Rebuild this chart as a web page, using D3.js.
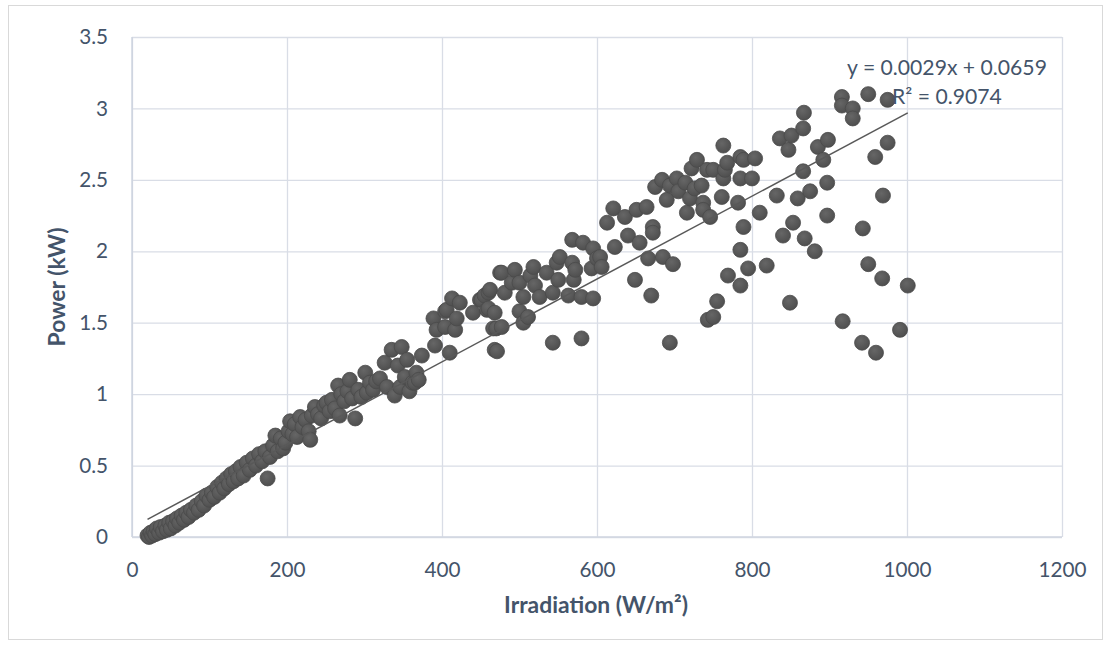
<!DOCTYPE html>
<html>
<head>
<meta charset="utf-8">
<script src="https://cdn.jsdelivr.net/npm/d3@7"></script>
<style>
  body { margin: 0; background: #fff; }
  svg { font-family: Lato, "Open Sans", sans-serif; }
</style>
</head>
<body>
<div id="chart"></div>
<script>
// irradiation (W/m2) and power (kW)
const irradiation = [
  20,22,24,26,28,30,32,35,37,40,43,45,48,50,53,56,58,61,64,67,70,73,76,80,83,86,90,93,96,100,
  103,106,110,113,116,119,122,125,128,131,134,137,140,144,148,152,156,160,164,168,172,175,178,182,185,188,192,195,198,202,
  204,207,210,213,217,220,224,228,230,232,236,240,244,248,251,255,258,262,266,268,270,274,278,281,284,288,292,296,301,303,
  307,311,315,320,326,329,335,339,343,346,348,352,355,358,362,365,367,370,374,
  389,391,393,404,404,406,410,413,417,419,423,440,449,451,455,458,460,460,462,466,468,468,470,471,475,477,477,481,490,494,
  500,500,505,505,511,514,518,520,526,535,543,543,548,550,552,563,568,568,570,572,580,580,582,593,595,595,600,604,606,
  613,621,623,636,640,649,651,655,664,670,672,672,666,675,684,685,690,694,694,698,703,705,714,716,720,722,726,729,735,737,
  737,742,743,746,750,750,755,761,763,763,765,768,769,782,785,785,785,785,789,789,795,800,804,810,819,832,836,840,847,849,
  851,853,859,866,866,867,868,875,881,885,892,897,897,898,916,916,917,930,930,942,943,950,950,959,960,968,969,975,975,991,1001
];
const power = [
  0.01,0.0,0.03,0.01,0.04,0.02,0.06,0.03,0.07,0.04,0.08,0.05,0.1,0.06,0.11,0.08,0.13,0.1,0.15,0.12,0.17,0.14,0.19,0.17,0.22,0.19,0.25,0.22,0.29,0.26,
  0.31,0.28,0.35,0.31,0.38,0.34,0.41,0.37,0.44,0.39,0.46,0.41,0.49,0.43,0.52,0.47,0.55,0.5,0.58,0.53,0.6,0.41,0.56,0.64,0.71,0.6,0.69,0.62,0.66,0.74,
  0.81,0.72,0.79,0.7,0.84,0.77,0.82,0.74,0.68,0.85,0.91,0.86,0.83,0.92,0.94,0.88,0.96,0.9,1.06,0.85,1.0,0.95,1.02,1.1,0.97,0.83,1.03,0.98,1.15,1.01,
  1.08,1.03,1.09,1.11,1.22,1.05,1.31,0.99,1.2,1.05,1.33,1.12,1.24,1.02,1.08,1.08,1.15,1.1,1.27,
  1.53,1.34,1.45,1.58,1.47,1.59,1.29,1.67,1.45,1.53,1.64,1.57,1.66,1.66,1.69,1.59,1.71,1.6,1.73,1.46,1.31,1.57,1.46,1.3,1.85,1.85,1.47,1.71,1.78,1.87,
  1.78,1.58,1.68,1.5,1.54,1.83,1.89,1.76,1.68,1.85,1.71,1.36,1.92,1.8,1.96,1.69,2.08,1.92,1.8,1.87,1.68,1.39,2.06,1.88,2.02,1.67,1.95,1.96,1.89,
  2.2,2.3,2.03,2.24,2.11,1.8,2.29,2.06,2.31,1.69,2.17,2.13,1.95,2.45,2.5,1.96,2.36,2.46,1.36,1.91,2.51,2.42,2.48,2.27,2.37,2.58,2.44,2.64,2.46,2.34,
  2.29,2.57,1.52,2.24,2.57,1.54,1.65,2.38,2.74,2.51,2.57,2.62,1.83,2.34,2.66,2.51,2.01,1.76,2.64,2.17,1.88,2.51,2.65,2.27,1.9,2.39,2.79,2.11,2.71,1.64,
  2.81,2.2,2.37,2.56,2.86,2.97,2.09,2.42,2.0,2.73,2.64,2.48,2.25,2.78,3.08,3.02,1.51,3.0,2.93,1.36,2.16,3.1,1.91,2.66,1.29,1.81,2.39,3.06,2.76,1.45,1.76
];
const xTicks = [0, 200, 400, 600, 800, 1000, 1200];
const yTicks = [0, 0.5, 1, 1.5, 2, 2.5, 3, 3.5];
const slope = 0.0029, intercept = 0.0659;
const trendRange = [20, 1001];
const equationText = "y = 0.0029x + 0.0659";
const r2Text = "R² = 0.9074";

const W = 1111, H = 648;
const margin = { top: 37, right: 49, bottom: 111, left: 132 };
const width = W - margin.left - margin.right;
const height = H - margin.top - margin.bottom;
const txt = '#44546a';

const svg = d3.select('#chart').append('svg')
  .attr('width', W).attr('height', H);

// font size that makes a string a given width (Calibri substitute)
function fitSize(str, weight, target) {
  const t = svg.append('text').attr('font-size', 20).attr('font-weight', weight).text(str);
  const w = t.node().getComputedTextLength();
  t.remove();
  return 20 * target / w;
}
const fsTick = fitSize('400', 'normal', 36);
const fsTitle = fitSize('Irradiation (W/m²)', 'bold', 184);
const fsEq = fitSize(equationText, 'normal', 200);

// outer chart border
svg.append('rect')
  .attr('x', 8.5).attr('y', 5.5)
  .attr('width', 1094).attr('height', 634)
  .attr('fill', '#fff').attr('stroke', '#d9d9d9');

const defs = svg.append('defs');
const grad = defs.append('radialGradient').attr('id', 'dot')
  .attr('cx', '40%').attr('cy', '35%').attr('r', '65%');
grad.append('stop').attr('offset', '0%').attr('stop-color', '#666');
grad.append('stop').attr('offset', '100%').attr('stop-color', '#4f4f4f');

const g = svg.append('g').attr('transform', `translate(${margin.left},${margin.top})`);

const x = d3.scaleLinear().domain([0, 1200]).range([0, width]);
const y = d3.scaleLinear().domain([0, 3.5]).range([height, 0]);

// gridlines
g.append('g')
  .call(d3.axisLeft(y).tickValues(yTicks).tickSize(-width).tickFormat(''))
  .call(a => a.select('.domain').remove())
  .selectAll('line').attr('stroke', '#d9dde6').attr('stroke-width', 1.3);
g.append('g')
  .attr('transform', `translate(0,${height})`)
  .call(d3.axisBottom(x).tickValues(xTicks).tickSize(-height).tickFormat(''))
  .call(a => a.select('.domain').remove())
  .selectAll('line').attr('stroke', '#d9dde6').attr('stroke-width', 1.3);

// axis lines
g.append('line').attr('x1', 0).attr('x2', 0).attr('y1', 0).attr('y2', height)
  .attr('stroke', '#c9d1de').attr('stroke-width', 1.3);
g.append('line').attr('x1', 0).attr('x2', width).attr('y1', height).attr('y2', height)
  .attr('stroke', '#d0d6e0').attr('stroke-width', 1.3);

// tick labels
const xAxis = g.append('g')
  .attr('transform', `translate(0,${height})`)
  .call(d3.axisBottom(x).tickValues(xTicks).tickSize(0).tickPadding(0).tickFormat(d => String(d)));
xAxis.select('.domain').remove();
xAxis.selectAll('text').attr('font-size', fsTick).attr('fill', txt)
  .attr('font-family', 'Lato, "Open Sans", sans-serif')
  .attr('dy', null).attr('y', 40);

const yAxis = g.append('g')
  .call(d3.axisLeft(y).tickValues(yTicks).tickSize(0).tickPadding(24).tickFormat(d => String(d)));
yAxis.select('.domain').remove();
yAxis.selectAll('text').attr('font-size', fsTick).attr('fill', txt)
  .attr('font-family', 'Lato, "Open Sans", sans-serif');

// points
const pts = irradiation.map((v, i) => [v, power[i]]);
g.selectAll('circle.pt').data(pts).enter().append('circle')
  .attr('class', 'pt')
  .attr('cx', d => x(d[0])).attr('cy', d => y(d[1]))
  .attr('r', 7.5)
  .attr('fill', 'url(#dot)')
  .attr('stroke', '#4a4a4a').attr('stroke-width', 0.8);

// trendline
g.append('line')
  .attr('x1', x(trendRange[0])).attr('y1', y(slope * trendRange[0] + intercept))
  .attr('x2', x(trendRange[1])).attr('y2', y(slope * trendRange[1] + intercept))
  .attr('stroke', '#595959').attr('stroke-width', 1.5);

// equation
svg.append('text').attr('x', 947).attr('y', 75).attr('text-anchor', 'middle')
  .attr('font-size', fsEq).attr('fill', txt).text(equationText);
svg.append('text').attr('x', 947).attr('y', 104).attr('text-anchor', 'middle')
  .attr('font-size', fsEq).attr('fill', txt).text(r2Text);

// axis titles
svg.append('text')
  .attr('transform', `translate(65,${margin.top + height / 2}) rotate(-90)`)
  .attr('text-anchor', 'middle').attr('font-size', fsTitle).attr('font-weight', 'bold')
  .attr('fill', txt).text('Power (kW)');
svg.append('text')
  .attr('x', 596).attr('y', 613)
  .attr('text-anchor', 'middle').attr('font-size', fsTitle).attr('font-weight', 'bold')
  .attr('fill', txt).text('Irradiation (W/m²)');
</script>
</body>
</html>
